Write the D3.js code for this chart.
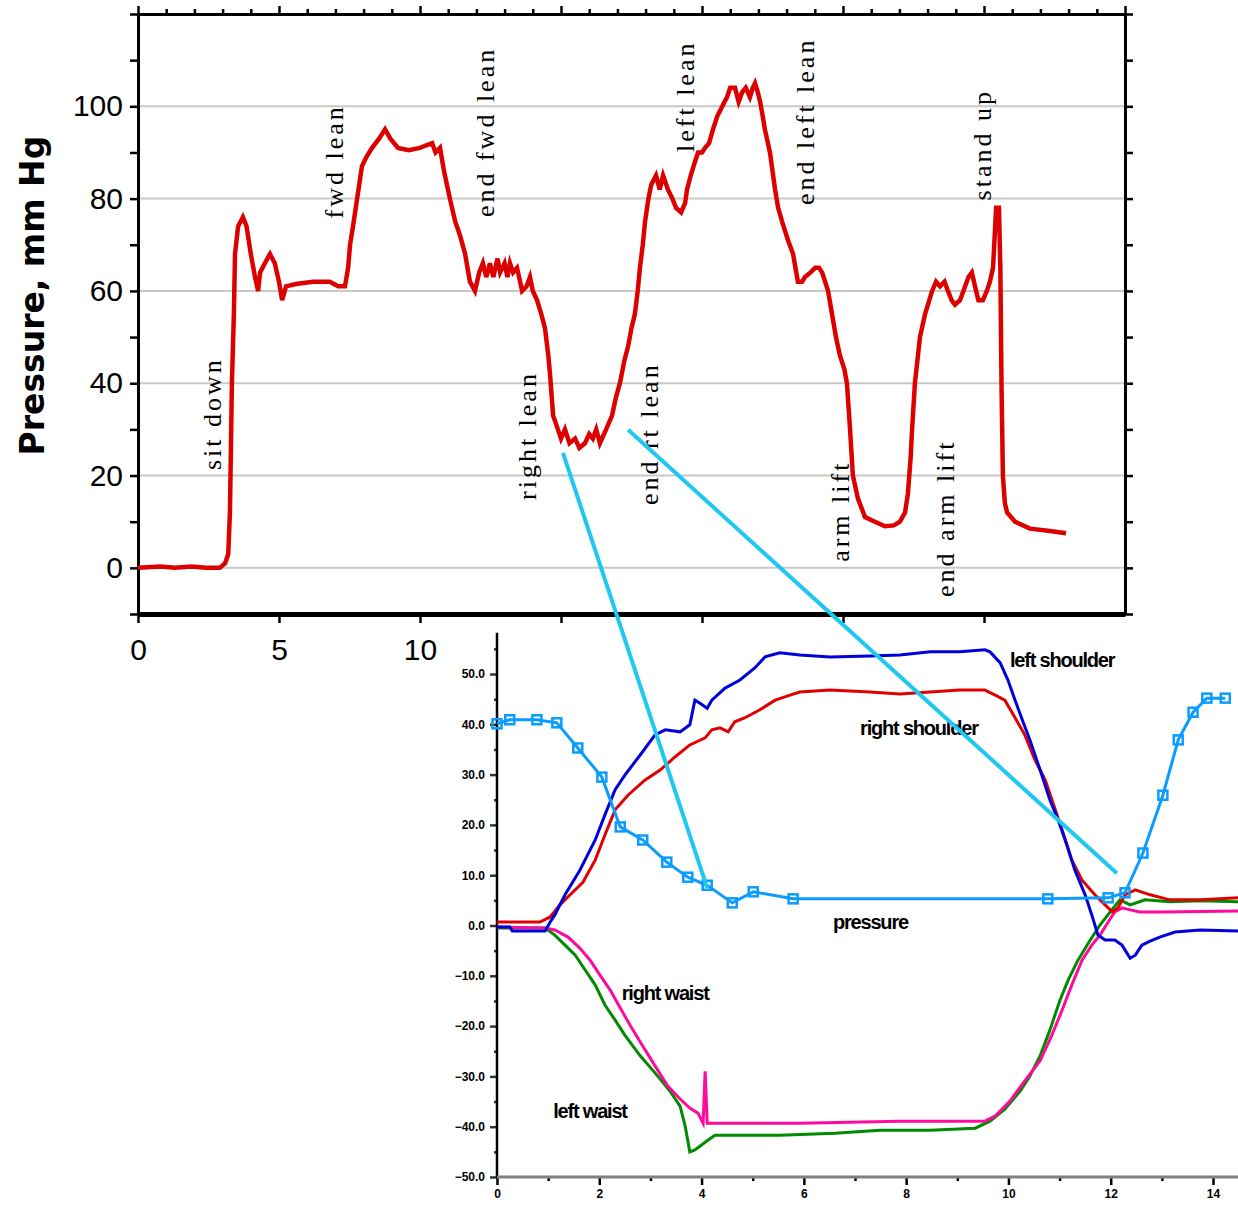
<!DOCTYPE html>
<html>
<head>
<meta charset="utf-8">
<script src="https://cdn.jsdelivr.net/npm/d3@7"></script>
<style>
body { margin: 0; background: #fff; }
</style>
</head>
<body>
<script>
// Seat pressure trace (time, s / mm Hg)
var presTime = [0, 0.8, 1.3, 1.9, 2.4, 2.9, 3.09, 3.2, 3.26, 3.33, 3.4, 3.44, 3.55, 3.72, 3.85, 4.0, 4.15, 4.26, 4.33, 4.5, 4.68, 4.85, 5.0, 5.11, 5.25, 5.6, 6.2, 6.8, 7.1, 7.34, 7.45, 7.52, 7.65, 7.77, 7.94, 8.1, 8.3, 8.55, 8.76, 8.95, 9.22, 9.6, 10.0, 10.2, 10.43, 10.55, 10.71, 10.85, 11.06, 11.25, 11.42, 11.6, 11.77, 11.95, 12.1, 12.23, 12.35, 12.48, 12.6, 12.75, 12.84, 13.0, 13.1, 13.19, 13.3, 13.44, 13.55, 13.62, 13.78, 13.9, 14.0, 14.15, 14.3, 14.43, 14.55, 14.61, 14.72, 14.89, 15.0, 15.14, 15.3, 15.5, 15.65, 15.85, 16.0, 16.13, 16.25, 16.38, 16.6, 16.81, 16.95, 17.09, 17.25, 17.38, 17.5, 17.62, 17.72, 17.8, 17.9, 17.98, 18.1, 18.2, 18.37, 18.5, 18.62, 18.79, 18.95, 19.08, 19.26, 19.4, 19.47, 19.6, 19.75, 19.86, 20.0, 20.11, 20.25, 20.39, 20.55, 20.64, 20.8, 20.89, 21.0, 21.17, 21.3, 21.42, 21.55, 21.7, 21.8, 21.88, 21.98, 22.06, 22.15, 22.23, 22.41, 22.59, 22.7, 22.84, 23.05, 23.23, 23.4, 23.55, 23.65, 23.85, 24.01, 24.15, 24.26, 24.47, 24.61, 24.75, 24.89, 25.05, 25.14, 25.25, 25.35, 25.53, 25.78, 26.13, 26.49, 26.8, 27.02, 27.2, 27.3, 27.4, 27.45, 27.55, 27.73, 27.91, 28.16, 28.3, 28.44, 28.6, 28.72, 28.85, 28.97, 29.15, 29.33, 29.45, 29.57, 29.68, 29.8, 29.96, 30.1, 30.21, 30.32, 30.38, 30.43, 30.53, 30.58, 30.62, 30.67, 30.74, 30.82, 31.1, 31.63, 32.34, 32.91];
var presVal = [0, 0.3, 0, 0.3, 0, 0, 1, 3, 12, 40, 55, 68, 74, 76, 74, 68, 63, 60, 64, 66, 68, 66, 62, 58, 61, 61.5, 62, 62, 61, 61, 65, 70, 75, 80, 87, 89, 91, 93, 95, 93, 91, 90.5, 91, 91.5, 92, 90, 91, 86, 80, 75, 72, 68, 62, 60, 64, 66, 63, 66, 63, 67, 64, 66, 63, 66, 64, 65, 62, 60, 61, 63, 60, 58, 55, 52, 46, 42, 33, 30, 28, 30, 27, 28, 26, 27, 29, 28, 30, 27, 30, 33, 37, 40, 45, 48, 52, 55, 60, 65, 70, 75, 80, 83, 85, 82, 85, 82, 80, 78, 77, 79, 82, 85, 88, 90, 90, 91, 92, 95, 98, 99, 101, 102, 104, 104, 101, 103, 104, 102, 104, 105, 103, 101, 98, 95, 90, 82, 78, 75, 71, 68, 62, 62, 63, 64, 65, 65, 64, 60, 55, 50, 46, 43, 40, 30, 20, 15, 11, 10, 9, 9.2, 10, 12, 16, 24, 30, 40, 50, 55, 60, 62, 61, 62, 60, 58, 57, 58, 61, 63, 64, 61, 58, 58, 60, 62, 65, 72, 78, 78, 65, 40, 20, 14, 12, 10, 8.5, 8, 7.5];

// Event annotations (time, pressure at start of text)
var events = ["sit down", "fwd lean", "end fwd lean", "right lean", "end rt lean", "left lean", "end left lean", "arm lift", "end arm lift", "stand up"];
var eventTime = [2.94, 7.27, 12.62, 14.1, 18.44, 19.72, 23.97, 25.21, 28.94, 30.25];
var eventVal = [21.2, 75.7, 76.0, 14.7, 13.6, 90.1, 78.6, 1.3, -6.3, 79.6];

var yTicks = [0, 20, 40, 60, 80, 100];
var xTicks = [0, 5, 10, 15, 20, 25, 30];

// Inset: sensor traces during right lean
var lsTime = [0, 0.25, 0.3, 0.94, 1.04, 1.13, 1.33, 1.62, 1.92, 2.11, 2.31, 2.5, 2.8, 3.09, 3.29, 3.58, 3.77, 3.87, 3.97, 4.11, 4.2, 4.46, 4.75, 5.04, 5.24, 5.53, 5.92, 6.51, 7.29, 7.88, 8.47, 9.05, 9.54, 9.64, 9.84, 9.99, 10.13, 10.27, 10.42, 10.62, 10.81, 10.97, 11.11, 11.3, 11.5, 11.63, 11.75, 11.89, 12.08, 12.22, 12.38, 12.48, 12.61, 12.77, 12.96, 13.26, 13.75, 14.49];
var lsVal = [-0.3, -0.3, -1.1, -1.1, 0.7, 2.1, 6.1, 11.0, 17.0, 22.0, 27.0, 29.9, 33.9, 37.9, 38.9, 38.5, 39.9, 44.8, 44.2, 43.2, 44.8, 47.2, 48.8, 51.2, 53.4, 54.2, 53.8, 53.4, 53.6, 53.8, 54.4, 54.4, 54.8, 54.4, 52.2, 48.8, 44.8, 40.9, 36.9, 30.9, 25.0, 21.0, 17.0, 11.0, 6.1, 2.1, -1.9, -2.9, -2.9, -3.9, -6.5, -5.9, -3.9, -3.1, -2.3, -1.3, -0.9, -1.1];

var rsTime = [0, 0.84, 1.04, 1.23, 1.47, 1.68, 1.92, 2.11, 2.31, 2.56, 2.89, 3.19, 3.48, 3.77, 4.07, 4.2, 4.36, 4.52, 4.65, 4.85, 5.14, 5.44, 5.73, 5.92, 6.51, 7.29, 7.88, 8.47, 9.05, 9.54, 9.74, 9.93, 10.13, 10.32, 10.52, 10.72, 10.85, 11.05, 11.24, 11.44, 11.69, 11.89, 12.03, 12.14, 12.28, 12.48, 12.77, 13.16, 13.75, 14.49];
var rsVal = [0.7, 0.7, 1.7, 4.1, 6.5, 8.6, 13.0, 18.0, 23.0, 25.9, 28.9, 30.9, 33.5, 35.9, 37.3, 38.9, 39.3, 38.5, 40.5, 41.3, 42.9, 44.8, 45.8, 46.4, 46.8, 46.4, 46.0, 46.4, 46.8, 46.8, 45.8, 44.8, 41.3, 37.9, 32.9, 28.9, 25.0, 19.0, 13.0, 9.0, 6.1, 4.1, 2.7, 3.5, 6.1, 7.1, 6.1, 5.1, 5.1, 5.5];

var rwTime = [0, 0.94, 1.13, 1.39, 1.62, 1.82, 2.01, 2.21, 2.41, 2.6, 2.84, 3.09, 3.34, 3.58, 3.77, 3.93, 4.03, 4.07, 4.11, 4.36, 5.92, 7.88, 9.54, 9.74, 10.03, 10.32, 10.62, 10.85, 11.05, 11.24, 11.44, 11.63, 11.79, 11.95, 12.08, 12.22, 12.38, 12.57, 13.0, 14.49];
var rwVal = [-0.3, -0.5, -0.9, -2.3, -4.5, -6.9, -9.8, -12.8, -16.4, -19.8, -23.8, -27.9, -31.9, -34.5, -36.3, -37.3, -39.3, -29.0, -39.3, -39.3, -39.3, -38.9, -38.9, -37.9, -34.9, -30.9, -26.9, -21.8, -16.8, -11.8, -6.9, -3.9, -1.9, 0.7, 2.7, 3.5, 3.1, 2.7, 2.7, 2.9];

var lwTime = [0, 0.94, 1.13, 1.33, 1.53, 1.72, 1.92, 2.11, 2.31, 2.5, 2.8, 3.09, 3.38, 3.58, 3.68, 3.77, 3.87, 4.07, 4.26, 4.65, 5.53, 6.61, 7.49, 8.47, 9.35, 9.64, 9.93, 10.23, 10.42, 10.62, 10.81, 11.01, 11.17, 11.36, 11.6, 11.79, 11.99, 12.18, 12.38, 12.67, 13.16, 13.75, 14.49];
var lwVal = [-0.5, -0.5, -1.9, -3.9, -5.9, -8.8, -11.8, -15.8, -18.8, -21.8, -25.9, -29.3, -32.9, -35.9, -39.9, -45.0, -44.6, -43.1, -41.7, -41.7, -41.7, -41.3, -40.7, -40.7, -40.3, -38.9, -36.5, -32.9, -29.9, -25.9, -20.8, -14.8, -10.8, -6.9, -2.9, 0.1, 2.7, 5.1, 4.1, 5.1, 4.7, 4.9, 4.7];

var prTime = [0, 0.25, 0.78, 1.17, 1.58, 2.05, 2.41, 2.85, 3.32, 3.73, 4.11, 4.6, 5.01, 5.79, 10.77, 11.95, 12.28, 12.63, 13.02, 13.32, 13.61, 13.88, 14.24];
var prVal = [40.1, 40.9, 40.9, 40.3, 35.3, 29.5, 19.6, 17.0, 12.6, 9.6, 8.0, 4.5, 6.7, 5.3, 5.3, 5.5, 6.5, 14.4, 25.9, 36.9, 42.4, 45.2, 45.2];

var insetLabels = ["left shoulder", "right shoulder", "pressure", "right waist", "left waist"];
var insetLabelTime = [10.03, 7.1, 6.57, 2.44, 1.1];
var insetLabelVal = [51.4, 37.9, -0.7, -14.8, -38.3];

// Links from the main trace to the inset
var linkTopTime = [15.07, 17.38];
var linkTopVal = [24.9, 29.9];
var linkInTime = [4.11, 12.12];
var linkInVal = [7.5, 10.4];

//Width and height
var w = 1238;
var h = 1206;

//Create SVG element
var svg = d3.select("body")
    .append("svg")
    .attr("width", w)
    .attr("height", h)
    .style("display", "block");

//Scales for the main chart
var x = d3.scaleLinear().domain([0, 35]).range([138, 1125]);
var y = d3.scaleLinear().domain([-10, 120]).range([614, 14]);

//Grid lines
svg.append("g")
    .selectAll("line")
    .data(yTicks)
    .enter()
    .append("line")
    .attr("x1", x(0))
    .attr("x2", x(35))
    .attr("y1", function (d) { return y(d); })
    .attr("y2", function (d) { return y(d); })
    .style("stroke", "#c8c8c8")
    .style("stroke-width", 2);

var tickFont = "'Liberation Sans', Arial, sans-serif";

//Left axis
var leftAxis = svg.append("g")
    .attr("transform", "translate(" + x(0) + ",0)")
    .call(d3.axisLeft(y)
        .tickValues(d3.range(-10, 121, 10))
        .tickSize(8)
        .tickSizeOuter(0)
        .tickPadding(7)
        .tickFormat(function (d) { return yTicks.indexOf(d) >= 0 ? d : ""; }));

//Right axis
var rightAxis = svg.append("g")
    .attr("transform", "translate(" + x(35) + ",0)")
    .call(d3.axisRight(y)
        .tickValues(d3.range(-10, 121, 10))
        .tickSize(8)
        .tickSizeOuter(0)
        .tickFormat(""));

//Top axis
var topAxis = svg.append("g")
    .attr("transform", "translate(0," + y(120) + ")")
    .call(d3.axisTop(x)
        .tickValues(d3.range(0, 36, 1))
        .tickSize(5)
        .tickSizeOuter(0)
        .tickFormat(""));
topAxis.selectAll(".tick line")
    .attr("y2", function (d) { return d % 5 === 0 ? -8 : -5; });

//Bottom axis
var bottomAxis = svg.append("g")
    .attr("transform", "translate(0," + y(-10) + ")")
    .call(d3.axisBottom(x)
        .tickValues(xTicks)
        .tickSize(9)
        .tickSizeOuter(0)
        .tickPadding(16));

[leftAxis, rightAxis, topAxis, bottomAxis].forEach(function (a) {
    a.select(".domain").style("stroke", "#000").style("stroke-width", 3);
    a.selectAll(".tick line").style("stroke", "#000").style("stroke-width", 2.5);
    a.selectAll("text")
        .style("font-family", tickFont)
        .style("font-size", "30px")
        .style("fill", "#000");
});
bottomAxis.select(".domain").style("stroke-width", 5);

//Pressure trace
var presLine = d3.line()
    .x(function (i) { return x(presTime[i]); })
    .y(function (i) { return y(presVal[i]); });

svg.append("path")
    .datum(d3.range(presTime.length))
    .attr("d", presLine)
    .style("fill", "none")
    .style("stroke", "#dd0000")
    .style("stroke-width", 4.5)
    .style("stroke-linejoin", "miter");

//Event labels
svg.append("g")
    .selectAll("text")
    .data(events)
    .enter()
    .append("text")
    .attr("transform", function (d, i) {
        return "translate(" + x(eventTime[i]) + "," + y(eventVal[i]) + ") rotate(-90)";
    })
    .text(function (d) { return d; })
    .style("font-family", "'Liberation Serif', 'Times New Roman', serif")
    .style("font-size", "26px")
    .style("letter-spacing", "3px")
    .style("fill", "#000");

//Y axis title
svg.append("text")
    .attr("transform", "translate(44," + y(59) + ") rotate(-90)")
    .attr("text-anchor", "middle")
    .text("Pressure, mm Hg")
    .style("font-family", "'DejaVu Sans', Verdana, sans-serif")
    .style("font-weight", "bold")
    .style("font-size", "33px")
    .style("fill", "#000");

//Inset panel
var xi = d3.scaleLinear().domain([0, 14]).range([497, 1213]);
var yi = d3.scaleLinear().domain([-50, 50]).range([1177, 674]);

var inset = svg.append("g").attr("id", "inset");

inset.append("rect")
    .attr("x", 440)
    .attr("y", 628)
    .attr("width", w - 440)
    .attr("height", h - 628)
    .style("fill", "#fff");

//Inset y axis
var iy = inset.append("g")
    .attr("transform", "translate(" + xi(0) + ",0)")
    .call(d3.axisLeft(yi)
        .tickValues(d3.range(-50, 56, 5))
        .tickSize(6)
        .tickSizeOuter(0)
        .tickPadding(6)
        .tickFormat(function (d) { return d % 10 === 0 ? d3.format(".1f")(d) : ""; }));
iy.select(".domain").remove();
iy.selectAll(".tick line")
    .attr("x2", function (d) { return d % 10 === 0 ? -7 : -3; })
    .style("stroke", "#333")
    .style("stroke-width", 2.5);

inset.append("line")
    .attr("x1", xi(0))
    .attr("x2", xi(0))
    .attr("y1", yi(-50))
    .attr("y2", yi(58.2))
    .style("stroke", "#000")
    .style("stroke-width", 2.5);

//Inset x axis
var ix = inset.append("g")
    .attr("transform", "translate(0," + yi(-50) + ")")
    .call(d3.axisBottom(xi)
        .tickValues(d3.range(0, 15, 1))
        .tickSize(7)
        .tickSizeOuter(0)
        .tickPadding(5)
        .tickFormat(function (d) { return d % 2 === 0 ? d : ""; }));
ix.select(".domain").remove();
ix.selectAll(".tick line")
    .attr("y2", function (d) { return d % 2 === 0 ? 8 : 4; })
    .style("stroke", "#000")
    .style("stroke-width", 2.5);

inset.append("line")
    .attr("x1", xi(0))
    .attr("x2", xi(14.6))
    .attr("y1", yi(-50))
    .attr("y2", yi(-50))
    .style("stroke", "#808080")
    .style("stroke-width", 3);

[iy, ix].forEach(function (a) {
    a.selectAll("text")
        .style("font-family", tickFont)
        .style("font-weight", "bold")
        .style("font-size", "12px")
        .style("fill", "#000");
});

//Inset traces
var series = [
    { t: lwTime, v: lwVal, color: "#008a00" },
    { t: rwTime, v: rwVal, color: "#ff0a9c" },
    { t: rsTime, v: rsVal, color: "#e00000" },
    { t: lsTime, v: lsVal, color: "#0000dc" },
    { t: prTime, v: prVal, color: "#0a9cff" }
];

series.forEach(function (s) {
    var line = d3.line()
        .x(function (i) { return xi(s.t[i]); })
        .y(function (i) { return yi(s.v[i]); });
    inset.append("path")
        .datum(d3.range(s.t.length))
        .attr("d", line)
        .style("fill", "none")
        .style("stroke", s.color)
        .style("stroke-width", 3);
});

//Pressure markers
inset.append("g")
    .selectAll("rect")
    .data(d3.range(prTime.length))
    .enter()
    .append("rect")
    .attr("x", function (i) { return xi(prTime[i]) - 4.5; })
    .attr("y", function (i) { return yi(prVal[i]) - 4.5; })
    .attr("width", 9)
    .attr("height", 9)
    .style("fill", "none")
    .style("stroke", "#0a9cff")
    .style("stroke-width", 2.5);

//Inset trace labels
inset.append("g")
    .selectAll("text")
    .data(insetLabels)
    .enter()
    .append("text")
    .attr("x", function (d, i) { return xi(insetLabelTime[i]); })
    .attr("y", function (d, i) { return yi(insetLabelVal[i]); })
    .text(function (d) { return d; })
    .style("font-family", "'Liberation Sans Narrow', 'Liberation Sans', Arial, sans-serif")
    .style("font-weight", "bold")
    .style("font-size", "20px")
    .style("letter-spacing", "-1.2px")
    .style("fill", "#000");

//Links between the main trace and the inset
svg.append("g")
    .selectAll("line")
    .data(linkTopTime)
    .enter()
    .append("line")
    .attr("x1", function (d, i) { return x(linkTopTime[i]); })
    .attr("y1", function (d, i) { return y(linkTopVal[i]); })
    .attr("x2", function (d, i) { return xi(linkInTime[i]); })
    .attr("y2", function (d, i) { return yi(linkInVal[i]); })
    .style("stroke", "#1ec8f0")
    .style("stroke-width", 4);
</script>
</body>
</html>
